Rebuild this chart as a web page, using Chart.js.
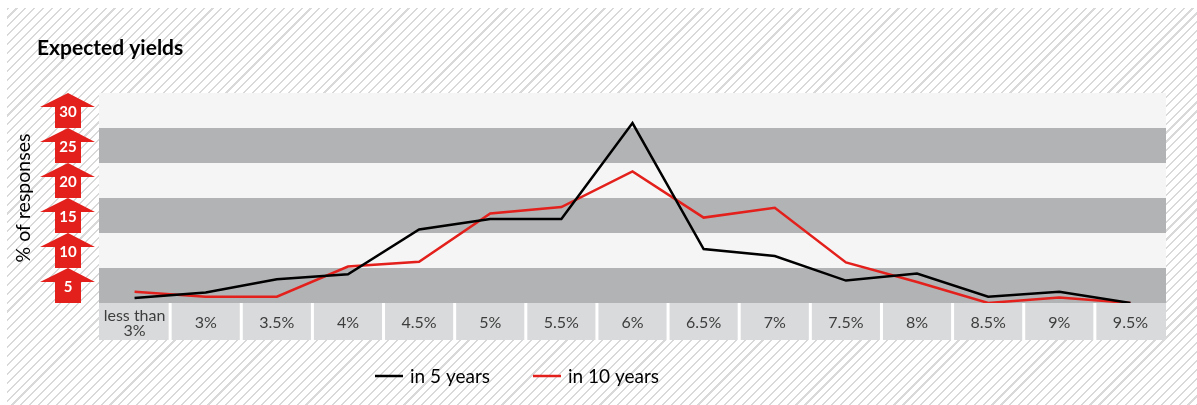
<!DOCTYPE html>
<html lang="en">
  <head>
    <meta charset="UTF-8" />
    <title>Expected yields</title>
    <script src="https://cdn.jsdelivr.net/npm/chart.js@4.4.1/dist/chart.umd.min.js"></script>
    <style>
      body { margin: 0; background: #fff; }
      #wrap { position: relative; width: 1197px; height: 405px; overflow: hidden; }
      #hatch {
        position: absolute; left: 7px; top: 8px; right: 0; bottom: 0;
        background: repeating-linear-gradient(135deg, #d9d9d9 0 1.5px, #fff 1.5px 6.3px);
      }
      canvas { position: absolute; left: 0; top: 0; }
    </style>
  </head>
  <body>
    <div id="wrap">
      <div id="hatch"></div>
      <canvas id="myChart" width="1197" height="405"></canvas>
    </div>

    <script>
      // values, % of responses
      const categories = [['less than', '3%'], '3%', '3.5%', '4%', '4.5%', '5%', '5.5%', '6%', '6.5%', '7%', '7.5%', '8%', '8.5%', '9%', '9.5%']
      const in5Years = [0.7, 1.5, 3.4, 4.1, 10.5, 12.0, 12.0, 25.7, 7.7, 6.7, 3.2, 4.2, 0.9, 1.6, 0]
      const in10Years = [1.6, 0.9, 0.9, 5.2, 5.9, 12.8, 13.7, 18.8, 12.2, 13.6, 5.8, 3.0, 0, 0.8, 0]
      const yTicks = [5, 10, 15, 20, 25, 30]

      const RED = '#e3201b'
      const FONT = 'Lato, "Open Sans", sans-serif'

      // bands, label boxes, arrow ticks, title and legend
      const decor = {
        id: 'decor',
        beforeDraw(chart) {
          const { ctx, chartArea: a, scales: { x, y } } = chart
          ctx.save()
          // alternating bands behind the lines
          for (let v = 0; v < 30; v += 5) {
            const top = y.getPixelForValue(v + 5)
            const bot = y.getPixelForValue(v)
            ctx.fillStyle = (v / 5) % 2 === 0 ? '#b2b3b5' : '#f5f5f5'
            ctx.fillRect(a.left, top, a.right - a.left, bot - top)
          }
          // grey boxes for the categories
          ctx.fillStyle = '#d9dadb'
          ctx.fillRect(a.left, x.top, a.right - a.left, x.bottom - x.top)
          const half = (x.getPixelForValue(1) - x.getPixelForValue(0)) / 2
          ctx.fillStyle = '#fff'
          for (let i = 1; i < categories.length; i++) {
            const edge = x.getPixelForValue(i) - half
            ctx.fillRect(edge - 1.5, x.top, 3, x.bottom - x.top)
          }
          ctx.restore()
        },
        afterDraw(chart) {
          const { ctx, scales: { y } } = chart
          ctx.save()
          // arrow shaped tick labels
          yTicks.forEach(v => {
            const tip = y.getPixelForValue(v)
            const base = y.getPixelForValue(v - 5)
            ctx.fillStyle = RED
            ctx.beginPath()
            ctx.moveTo(68, tip)
            ctx.lineTo(95, tip + 14)
            ctx.lineTo(81, tip + 14)
            ctx.lineTo(81, base)
            ctx.lineTo(55, base)
            ctx.lineTo(55, tip + 14)
            ctx.lineTo(40, tip + 14)
            ctx.closePath()
            ctx.fill()
            ctx.fillStyle = '#fff'
            ctx.font = 'bold 15px ' + FONT
            ctx.textAlign = 'center'
            ctx.textBaseline = 'middle'
            ctx.fillText(String(v), 68, tip + 19)
          })
          // title
          ctx.fillStyle = '#000'
          ctx.font = 'bold 21px ' + FONT
          ctx.textAlign = 'left'
          ctx.textBaseline = 'alphabetic'
          ctx.fillText('Expected yields', 37, 55)
          // legend
          const spots = [375, 533]
          ctx.font = '19px ' + FONT
          ctx.textBaseline = 'middle'
          chart.data.datasets.forEach((ds, i) => {
            const lx = spots[i]
            ctx.strokeStyle = ds.borderColor
            ctx.lineWidth = 2.5
            ctx.beginPath()
            ctx.moveTo(lx, 376)
            ctx.lineTo(lx + 28, 376)
            ctx.stroke()
            ctx.fillStyle = '#000'
            ctx.fillText(ds.label, lx + 35, 377)
          })
          ctx.restore()
        }
      }

      const ctx = document.getElementById('myChart').getContext('2d')
      const myChart = new Chart(ctx, {
        type: 'line',
        data: {
          labels: categories,
          datasets: [
            { label: 'in 5 years', data: in5Years, borderColor: '#000', borderWidth: 2.5, pointRadius: 0, tension: 0 },
            { label: 'in 10 years', data: in10Years, borderColor: RED, borderWidth: 2.5, pointRadius: 0, tension: 0 }
          ]
        },
        options: {
          responsive: false,
          animation: false,
          layout: { padding: { top: 93, right: 31, bottom: 65, left: 0 } },
          plugins: { legend: { display: false }, tooltip: { enabled: false } },
          scales: {
            x: {
              offset: true,
              grid: { display: false, drawTicks: false },
              border: { display: false },
              ticks: {
                color: '#3d3d3d', autoSkip: false, maxRotation: 0, padding: 13, crossAlign: 'center',
                font: { family: FONT, size: 16, lineHeight: 0.9 }
              },
              afterFit(s) { s.height = 37 }
            },
            y: {
              min: 0, max: 30,
              ticks: { stepSize: 5, display: false },
              grid: { display: false },
              border: { display: false },
              title: {
                display: true, text: '% of responses', color: '#000',
                font: { family: FONT, size: 19.5 }, padding: { top: 12, bottom: 0 }
              },
              afterFit(s) { s.width = 99 }
            }
          }
        },
        plugins: [decor]
      })
    </script>
  </body>
</html>
